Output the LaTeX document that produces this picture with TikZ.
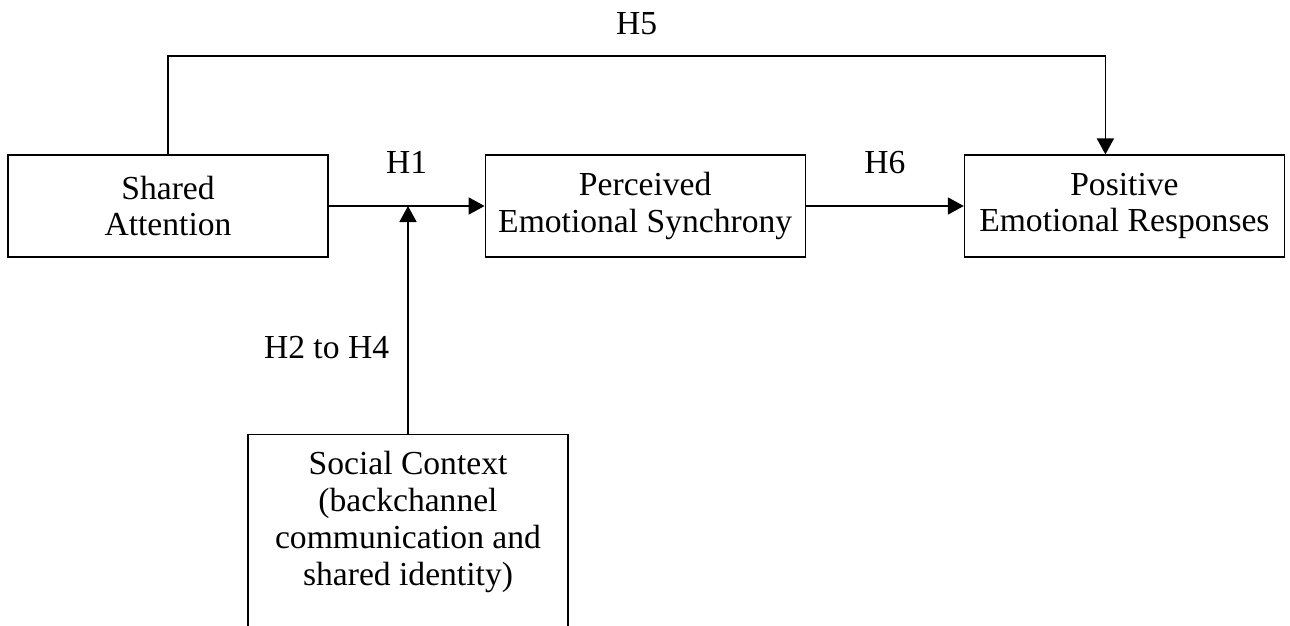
\documentclass[tikz,border=0pt]{standalone}
\usepackage{fontspec}
\setmainfont{Liberation Serif}
\usepackage{tikz}
\usepackage{xcolor}
\usetikzlibrary{positioning, arrows.meta}

\begin{document}
\begin{tikzpicture}[x=0.5pt, y=-0.5pt, node distance=78pt,
		font=\fontsize{16.8}{18.4}\selectfont,
		box/.style={draw, rectangle, line width=0.6pt, minimum width=160pt, minimum height=51pt, align=center},
		link/.style={->, line width=0.9pt},
		>={Triangle[width=8.5pt, length=8pt]}]
		\useasboundingbox (0,0) rectangle (1290,626);
		\clip (0,0) rectangle (1290,626);

		% Nodes
		\node[box] (attention) at (168,206) {Shared\\Attention};
		\node[box, right=78pt of attention] (synchrony) {Perceived\\Emotional Synchrony};
		\node[box, right=79pt of synchrony] (responses) {Positive\\Emotional Responses};
		\node[box, anchor=north, minimum height=130pt] (social) at (408,434) {};
		\node[below=8.5pt of social.north, inner sep=0pt, align=center] (socialtxt) {Social Context\\(backchannel\\communication and\\shared identity)};
		\coordinate (top) at (0,56);

		% Hypothesis arrows
		\draw[link] (attention) -- node[above=16pt, inner sep=0pt] (h1) {H1} (synchrony);
		\draw[link] (synchrony) -- node[above=15.5pt, inner sep=0pt] (h6) {H6} (responses);
		\draw[link] (social.north) -- node[left=9pt, pos=0.38, inner sep=0pt] (h24) {H2 to H4} (social.north |- attention.east);
		\draw[link] (attention.north) -- (attention.north |- top) -- node[above=10pt, inner sep=0pt] (h5) {H5} ([xshift=-9.5pt]responses.north |- top) -- ([xshift=-9.5pt]responses.north);
	\end{tikzpicture}
\end{document}
